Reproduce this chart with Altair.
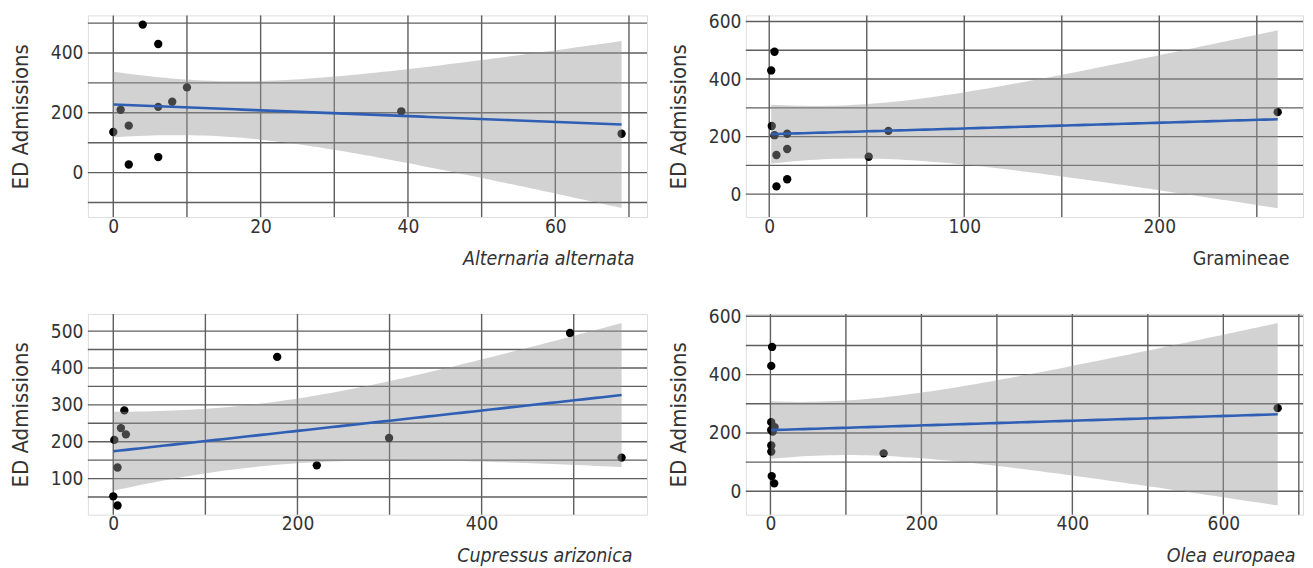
import altair as alt
import numpy as np
import pandas as pd

# ED admissions (shared across panels)
ed_admissions = [495, 430, 285, 237, 220, 210, 205, 157, 136, 130, 52, 27]

# pollen / spore counts per panel (same observation order)
alternaria = [4.0, 6.1, 10.0, 8.0, 6.1, 1.0, 39.1, 2.1, 0.0, 69.0, 6.1, 2.1]
gramineae = [2.7, 1.0, 260.7, 1.3, 61.1, 9.2, 2.7, 9.2, 3.7, 51.0, 9.2, 3.7]
cupressus = [496.0, 178.0, 12.0, 8.3, 13.7, 299.5, 1.1, 552.0, 221.0, 4.6, 0.0, 4.6]
olea = [2.2, 1.1, 672.0, 1.0, 5.5, 1.0, 3.0, 1.1, 1.1, 150.0, 1.7, 5.0]

panel_titles = ["Alternaria alternata", "Gramineae", "Cupressus arizonica", "Olea europaea"]
title_styles = ["italic", "normal", "italic", "italic"]
x_grid_steps = [10, 50, 100, 100]
x_label_steps = [20, 100, 200, 200]
y_grid_steps = [100, 100, 50, 100]
y_label_steps = [200, 200, 100, 200]

FONT = "DejaVu Sans Condensed, sans-serif"
GRID = "#5e5e5e"
T_975_DF10 = 2.228


def lm_fit(xv, yv, n_grid=80):
    x = np.asarray(xv, float)
    y = np.asarray(yv, float)
    n = len(x)
    mx, my = x.mean(), y.mean()
    sxx = ((x - mx) ** 2).sum()
    b = ((x - mx) * (y - my)).sum() / sxx
    a = my - b * mx
    s = np.sqrt(((y - (a + b * x)) ** 2).sum() / (n - 2))
    g = np.linspace(x.min(), x.max(), n_grid)
    fit = a + b * g
    se = s * np.sqrt(1.0 / n + (g - mx) ** 2 / sxx)
    return pd.DataFrame({"x": g, "fit": fit, "lo": fit - T_975_DF10 * se, "hi": fit + T_975_DF10 * se})


def panel(xv, title, style, xgs, xls, ygs, yls, w, h, top_gap_px=0.0, title_inset=12):
    pts = pd.DataFrame({"x": xv, "y": ed_admissions})
    sm = lm_fit(xv, ed_admissions)
    x0, x1 = min(xv), max(xv)
    xe = 0.05 * (x1 - x0)
    xdom = [float(x0 - xe), float(x1 + xe)]
    y0 = min(min(ed_admissions), sm["lo"].min())
    y1 = max(max(ed_admissions), sm["hi"].max())
    ye = 0.05 * (y1 - y0)
    ydom = [float(y0 - ye), float(y1 + ye)]
    if top_gap_px:
        span = ydom[1] - ydom[0]
        p = (h - top_gap_px) / span
        ydom[1] = ydom[1] + top_gap_px / p
    xgrid = [v for v in range(-1000, 2000, xgs) if xdom[0] <= v <= xdom[1]]
    ygrid = [v for v in range(-1000, 2000, ygs) if ydom[0] <= v <= ydom[1]]
    xlab = [v for v in xgrid if v % xls == 0]
    ylab = [v for v in ygrid if v % yls == 0]

    xscale = alt.Scale(domain=xdom, nice=False, zero=False)
    yscale = alt.Scale(domain=ydom, nice=False, zero=False)
    xaxis = alt.Axis(
        values=xlab, title=title, titleFontStyle=style, titleAnchor="end",
        titleAlign="right", titleX=w - title_inset, titleFontWeight="normal", titleFont=FONT,
        titleFontSize=19.5, titleColor="#333333", titlePadding=13,
        labelFont=FONT, labelFontSize=19, labelColor="#333333", labelPadding=0,
        ticks=False, domain=False, grid=False, labelFlush=False, labelOverlap=False,
    )
    yaxis = alt.Axis(
        values=ylab, title="ED Admissions", titleFontWeight="normal", titleFont=FONT,
        titleFontSize=22, titleColor="#333333", titlePadding=18,
        labelFont=FONT, labelFontSize=19, labelColor="#333333", labelPadding=5,
        ticks=False, domain=False, grid=False, labelOverlap=False,
    )
    vgrid = alt.Chart(pd.DataFrame({"g": xgrid})).mark_rule(
        color=GRID, strokeWidth=1.4
    ).encode(x=alt.X("g:Q", scale=xscale, axis=xaxis))
    hgrid = alt.Chart(pd.DataFrame({"g": ygrid})).mark_rule(
        color=GRID, strokeWidth=1.4
    ).encode(y=alt.Y("g:Q", scale=yscale, axis=yaxis))
    points = alt.Chart(pts).mark_circle(size=70, color="#000000", opacity=1).encode(
        x=alt.X("x:Q", scale=xscale), y=alt.Y("y:Q", scale=yscale),
    )
    band = alt.Chart(sm).mark_area(color="#999999", opacity=0.44).encode(
        x=alt.X("x:Q", scale=xscale), y=alt.Y("lo:Q", scale=yscale), y2="hi:Q"
    )
    line = alt.Chart(sm).mark_line(color="#2f5fb5", strokeWidth=2.6).encode(
        x=alt.X("x:Q", scale=xscale), y=alt.Y("fit:Q", scale=yscale)
    )
    return alt.layer(vgrid, hgrid, points, band, line).properties(width=w, height=h)


series = [alternaria, gramineae, cupressus, olea]
widths = [560, 558, 560, 558]
heights = [202, 202, 201, 201]
top_gaps = [0, 6, 0, 0]
title_insets = [13, 14, 15, 8]
panels = [
    panel(series[i], panel_titles[i], title_styles[i], x_grid_steps[i], x_label_steps[i],
          y_grid_steps[i], y_label_steps[i], widths[i], heights[i], top_gaps[i], title_insets[i])
    for i in range(4)
]

chart = alt.vconcat(
    alt.hconcat(panels[0], panels[1], spacing=17),
    alt.hconcat(panels[2], panels[3], spacing=17),
    spacing=38,
).configure_view(stroke=None).configure(background="white").properties(
    padding={"left": 0, "top": 3, "right": 0, "bottom": 0}
)

chart.save("out.html", embed_options={"renderer": "svg", "actions": False})
